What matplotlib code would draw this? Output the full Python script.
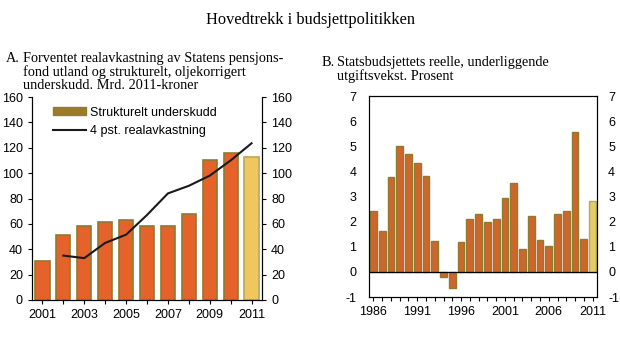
import matplotlib
matplotlib.use("Agg")
import matplotlib.pyplot as plt
from matplotlib.patches import Patch
from matplotlib.lines import Line2D
import numpy as np

plt.rcParams["axes.unicode_minus"] = False

# Panel A data
years_a = [2001, 2002, 2003, 2004, 2005, 2006, 2007, 2008, 2009, 2010, 2011]
underskudd = [31, 51, 58, 61.5, 63, 58, 58, 68, 110, 116, 113]
line_years = [2002, 2003, 2004, 2005, 2006, 2007, 2008, 2009, 2010, 2011]
realavk = [35, 33, 45, 51.5, 67, 84, 90, 98, 110, 123.5]
a_tick_labels = ["2001", "2003", "2005", "2007", "2009", "2011"]

# Panel B data
years_b = list(range(1986, 2012))
vekst = [2.42, 1.62, 3.78, 5.02, 4.68, 4.33, 3.83, 1.23, -0.22, -0.65, 1.2, 2.12,
         2.32, 2.0, 2.1, 2.94, 3.52, 0.92, 2.23, 1.27, 1.04, 2.31, 2.42, 5.55, 1.31, 2.84]
b_tick_labels = ["1986", "1991", "1996", "2001", "2006", "2011"]

serif = "Liberation Serif"
sans = "Liberation Sans"

fig = plt.figure(figsize=(6.2, 3.45), dpi=100)

fig.text(0.5, 1 - 20/345, "Hovedtrekk i budsjettpolitikken", ha="center", va="center",
         family=serif, fontsize=11.8)

fig.text(6/620, 1 - 58/345, "A.", ha="left", va="center", family=serif, fontsize=10.3)
fig.text(23/620, 1 - 72/345,
         "Forventet realavkastning av Statens pensjons-\nfond utland og strukturelt, oljekorrigert\nunderskudd. Mrd. 2011-kroner",
         ha="left", va="center", family=serif, fontsize=10.3, linespacing=1.05)
fig.text(322/620, 1 - 63/345, "B.", ha="left", va="center", family=serif, fontsize=10.3)
fig.text(337/620, 1 - 69.5/345,
         "Statsbudsjettets reelle, underliggende\nutgiftsvekst. Prosent",
         ha="left", va="center", family=serif, fontsize=10.3, linespacing=1.05)

orange = "#E5622B"
olive = "#8F7B2E"
yellow = "#F2C65E"

# Panel A
axA = fig.add_axes([32/620, 1 - 300/345, 230/620, 203/345])
xa = np.arange(len(years_a))
cols = [orange] * (len(years_a) - 1) + [yellow]
edges = [olive] * (len(years_a) - 1) + ["#B8A85A"]
axA.bar(xa, underskudd, width=0.68, color=cols, edgecolor=edges, linewidth=1.2, zorder=2)
lx = [years_a.index(y) for y in line_years]
axA.plot(lx, realavk, color="#1a1a1a", linewidth=1.5, zorder=3)
axA.set_xlim(-0.5, len(years_a) - 0.5)
axA.set_ylim(0, 160)
axA.set_yticks(np.arange(0, 161, 20))
axA.set_xticks(xa)
axA.set_xticklabels([str(y) if str(y) in a_tick_labels else "" for y in years_a])
axA.spines["top"].set_visible(False)
axA.tick_params(axis="both", labelsize=9, length=3, width=0.8, direction="out")
for lab in axA.get_xticklabels() + axA.get_yticklabels():
    lab.set_family(sans)
axA2 = axA.twinx()
axA2.set_ylim(0, 160)
axA2.set_yticks(np.arange(0, 161, 20))
axA2.spines["top"].set_visible(False)
axA2.tick_params(axis="y", labelsize=9, length=3, width=0.8, direction="out")
for lab in axA2.get_yticklabels():
    lab.set_family(sans)
handles = [Patch(facecolor="#9B7B2B", edgecolor="#9B7B2B"),
           Line2D([0], [0], color="#1a1a1a", linewidth=1.5)]
axA.legend(handles, ["Strukturelt underskudd", "4 pst. realavkastning"],
           loc="upper left", bbox_to_anchor=(0.06, 0.99), frameon=False,
           prop={"family": sans, "size": 9}, handlelength=2.6, handleheight=0.6,
           labelspacing=0.55, borderaxespad=0.2, handletextpad=0.3)

# Panel B
axB = fig.add_axes([369/620, 1 - 297/345, 228/620, 201/345])
xb = np.arange(len(years_b))
colsb = ["#CF652B"] * (len(years_b) - 1) + ["#E3CB66"]
edgesb = [olive] * (len(years_b) - 1) + ["#B8A85A"]
axB.bar(xb, vekst, width=0.78, color=colsb, edgecolor=edgesb, linewidth=1.0, zorder=2)
axB.axhline(0, color="black", linewidth=0.9, zorder=3)
axB.set_xlim(-0.5, len(years_b) - 0.5)
axB.set_ylim(-1, 7)
axB.set_yticks(np.arange(-1, 8, 1))
axB.set_xticks(xb)
axB.set_xticklabels([str(y) if str(y) in b_tick_labels else "" for y in years_b])
axB.tick_params(axis="x", labelsize=9, length=3, width=0.8, direction="out")
axB.tick_params(axis="y", labelsize=9, length=0, width=0.8, pad=9)
for lab in axB.get_xticklabels() + axB.get_yticklabels():
    lab.set_family(sans)
axB2 = axB.twinx()
axB2.set_ylim(-1, 7)
axB2.set_yticks(np.arange(-1, 8, 1))
axB2.tick_params(axis="y", labelsize=9, length=0, width=0.8, pad=8)
for lab in axB2.get_yticklabels():
    lab.set_family(sans)

fig.savefig("out.png", dpi=100)
